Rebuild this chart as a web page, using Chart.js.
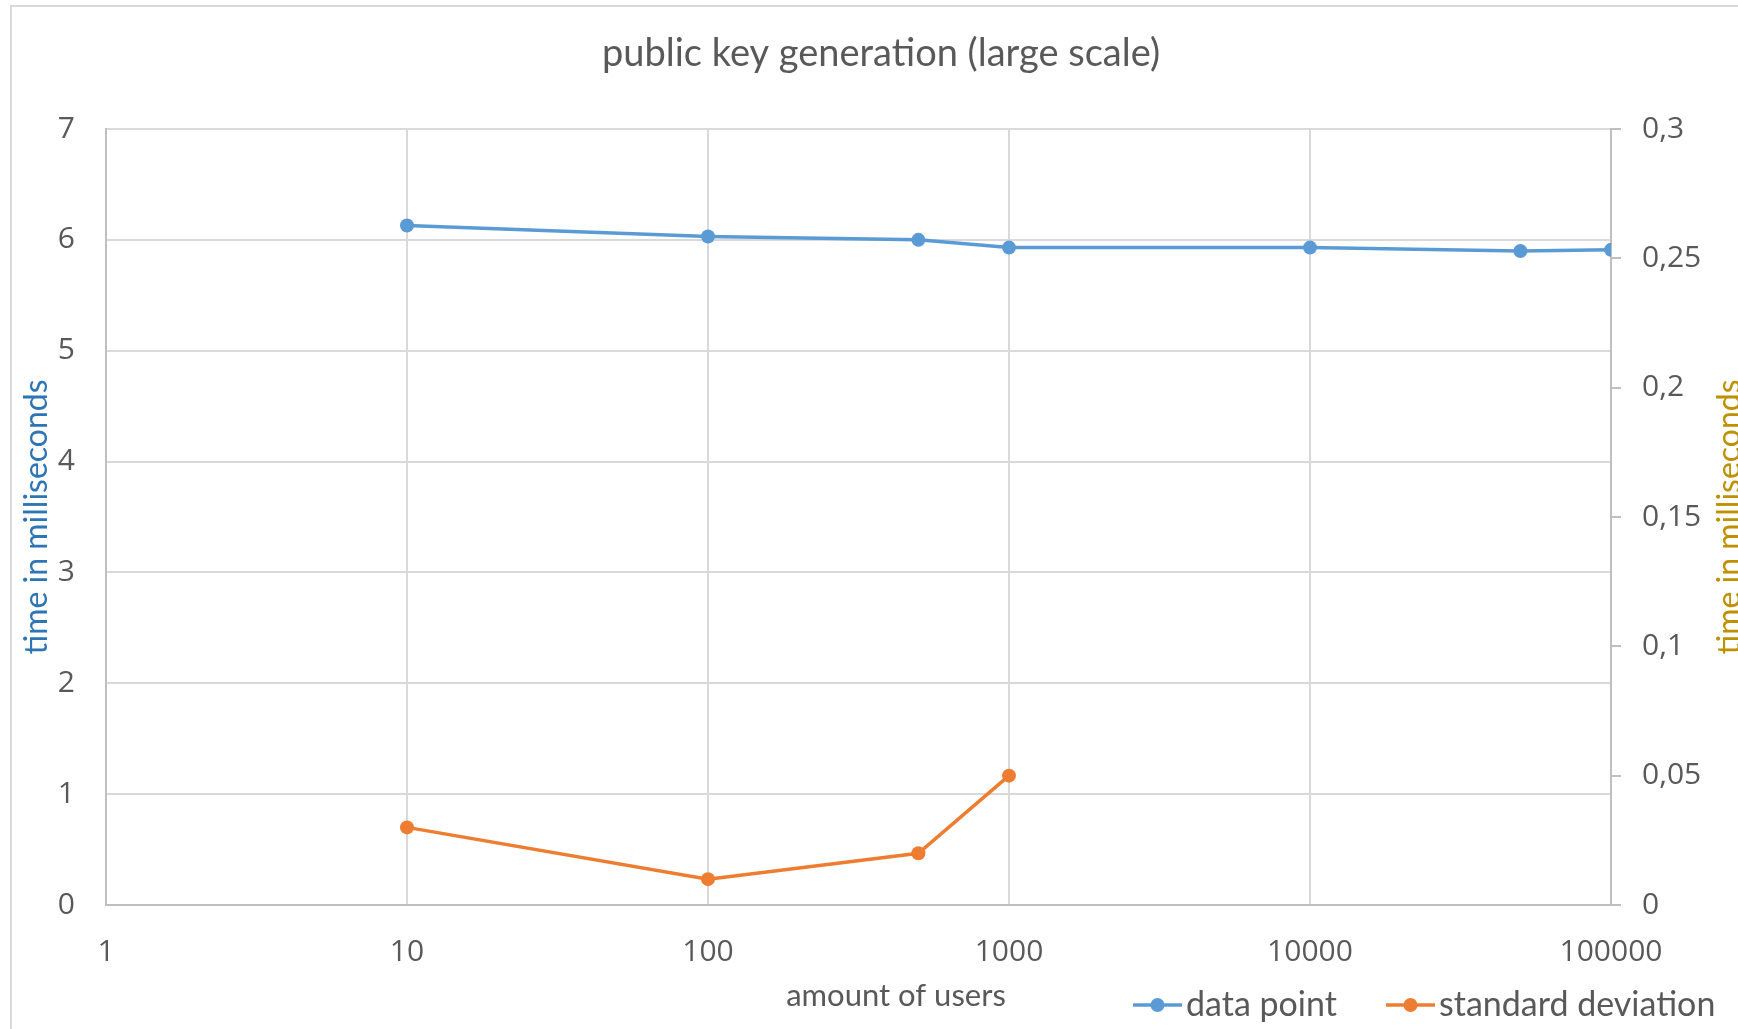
<!DOCTYPE html>
<html>
<head>
<meta charset="utf-8">
<script src="https://cdn.jsdelivr.net/npm/chart.js@4/dist/chart.umd.min.js"></script>
<style>
  html, body { margin: 0; padding: 0; background: #ffffff; overflow: hidden; }
  canvas { display: block; }
</style>
</head>
<body>
<canvas id="chart" width="1738" height="1029"></canvas>
<script>
// Amount of users measured (log scale on the x axis)
const users = [10, 100, 500, 1000, 10000, 50000, 100000];
// Mean public key generation time (ms), left axis
const dataPoint = [6.13, 6.03, 6.00, 5.93, 5.93, 5.90, 5.91];
// Standard deviation (ms), right axis; only measured up to 1000 users
const standardDeviation = [0.03, 0.01, 0.02, 0.05, null, null, null];
// Tick values
const xTicks = [1, 10, 100, 1000, 10000, 100000];
const seriesNames = ['data point', 'standard deviation'];

const BLUE = '#5B9BD5';
const ORANGE = '#ED7D31';
const TEXT = '#595959';
const GRID = '#d9d9d9';
const AXIS = '#bfbfbf';
const TICK_FONT = { family: '"Open Sans", sans-serif', size: 30 };
const LABEL_FONT = '"Lato", sans-serif';

const toPoints = (ys) => users.map((u, i) => ({ x: u, y: ys[i] }));

// Frame, axis titles and legend drawn around the plot
const decorations = {
  id: 'decorations',
  beforeDraw(chart) {
    const ctx = chart.ctx;
    ctx.save();
    ctx.fillStyle = '#ffffff';
    ctx.fillRect(0, 0, chart.width, chart.height);
    ctx.strokeStyle = GRID;
    ctx.lineWidth = 2;
    ctx.beginPath();
    ctx.moveTo(11, chart.height + 5);
    ctx.lineTo(11, 6);
    ctx.lineTo(chart.width + 5, 6);
    ctx.stroke();
    ctx.restore();
  },
  afterDraw(chart) {
    const ctx = chart.ctx;
    const area = chart.chartArea;
    const midY = (area.top + area.bottom) / 2;
    ctx.save();
    // chart title
    ctx.fillStyle = TEXT;
    ctx.font = '38px ' + LABEL_FONT;
    ctx.textAlign = 'center';
    ctx.textBaseline = 'middle';
    ctx.fillText('public key generation (large scale)', 881, 54);

    // left axis title
    ctx.save();
    ctx.translate(37, midY);
    ctx.rotate(-Math.PI / 2);
    ctx.fillStyle = '#2E75B6';
    ctx.font = '32px ' + LABEL_FONT;
    ctx.fillText('time in milliseconds', 0, 0);
    ctx.restore();

    // right axis title
    ctx.save();
    ctx.translate(1730, midY);
    ctx.rotate(-Math.PI / 2);
    ctx.fillStyle = '#BF9000';
    ctx.font = '32px ' + LABEL_FONT;
    ctx.fillText('time in milliseconds', 0, 0);
    ctx.restore();

    // x axis title
    ctx.fillStyle = TEXT;
    ctx.font = '31px ' + LABEL_FONT;
    ctx.fillText('amount of users', 896, 996);

    // legend
    const items = [
      { x: 1133, color: chart.data.datasets[0].borderColor, label: chart.data.datasets[0].label },
      { x: 1386, color: chart.data.datasets[1].borderColor, label: chart.data.datasets[1].label }
    ];
    const ly = 1005;
    ctx.font = '34px ' + LABEL_FONT;
    ctx.textAlign = 'left';
    items.forEach(it => {
      ctx.strokeStyle = it.color;
      ctx.lineWidth = 3.5;
      ctx.beginPath();
      ctx.moveTo(it.x, ly);
      ctx.lineTo(it.x + 49, ly);
      ctx.stroke();
      ctx.fillStyle = it.color;
      ctx.beginPath();
      ctx.arc(it.x + 24.5, ly, 7, 0, Math.PI * 2);
      ctx.fill();
      ctx.fillStyle = TEXT;
      ctx.fillText(it.label, it.x + 53, ly);
    });
    ctx.restore();
  }
};

new Chart(document.getElementById('chart'), {
  type: 'line',
  data: {
    datasets: [
      {
        label: seriesNames[0],
        data: toPoints(dataPoint),
        yAxisID: 'y',
        borderColor: BLUE,
        backgroundColor: BLUE,
        borderWidth: 3.5,
        pointRadius: 7,
        pointHoverRadius: 7,
        pointBorderWidth: 0,
        tension: 0
      },
      {
        label: seriesNames[1],
        data: toPoints(standardDeviation),
        yAxisID: 'y2',
        borderColor: ORANGE,
        backgroundColor: ORANGE,
        borderWidth: 3.5,
        pointRadius: 7,
        pointHoverRadius: 7,
        pointBorderWidth: 0,
        tension: 0,
        spanGaps: false
      }
    ]
  },
  options: {
    responsive: false,
    animation: false,
    devicePixelRatio: 1,
    layout: { padding: { top: 129, left: 0, right: 0, bottom: 0 } },
    plugins: {
      legend: { display: false },
      title: { display: false },
      tooltip: { enabled: false }
    },
    scales: {
      x: {
        type: 'logarithmic',
        position: 'bottom',
        min: 1,
        max: 100000,
        afterBuildTicks(scale) { scale.ticks = xTicks.map(v => ({ value: v })); },
        afterFit(scale) { scale.height = 124; },
        grid: { color: GRID, lineWidth: 2, drawTicks: false },
        border: { color: AXIS, width: 2 },
        ticks: {
          autoSkip: false,
          maxRotation: 0,
          padding: 29,
          color: TEXT,
          font: TICK_FONT,
          callback: (v) => String(v)
        }
      },
      y: {
        position: 'left',
        min: 0,
        max: 7,
        afterFit(scale) { scale.width = 106; },
        grid: { color: GRID, lineWidth: 2, drawTicks: false },
        border: { color: AXIS, width: 2 },
        ticks: { stepSize: 1, padding: 31, color: TEXT, font: TICK_FONT }
      },
      y2: {
        position: 'right',
        min: 0,
        max: 0.3,
        afterFit(scale) { scale.width = 127; },
        grid: { drawOnChartArea: false, color: AXIS, lineWidth: 2, tickLength: 10 },
        border: { color: AXIS, width: 2 },
        ticks: {
          stepSize: 0.05,
          padding: 21,
          color: TEXT,
          font: TICK_FONT,
          callback: (v) => String(Math.round(v * 100) / 100).replace('.', ',')
        }
      }
    }
  },
  plugins: [decorations]
});
</script>
</body>
</html>
